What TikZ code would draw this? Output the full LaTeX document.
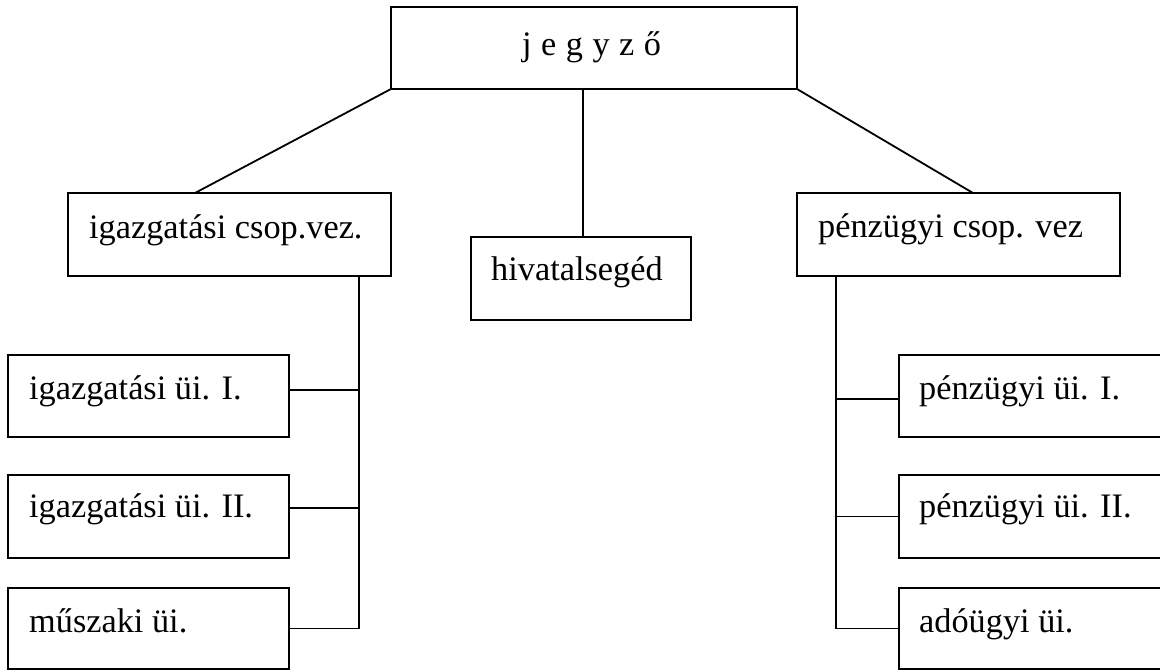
\documentclass[tikz,border=0pt]{standalone}
\usepackage{fontspec}
\setmainfont{Liberation Serif}
\usetikzlibrary{calc}
\begin{document}
\begin{tikzpicture}[x=1pt,y=-1pt,
  box/.style={draw,line width=1.8pt,rectangle,inner sep=0pt,outer sep=0pt,anchor=north west},
  lbl/.style={anchor=base west,inner sep=0pt,font=\fontsize{34.3}{40}\selectfont},
  con/.style={line width=1.8pt}]
\useasboundingbox (0,0) rectangle (1160,670);
\clip (0,0) rectangle (1160,670);
% boxes
\node[box,minimum width=406pt,minimum height=82pt] (jz) at (391,7) {};
\node[box,minimum width=323pt,minimum height=83pt] (igcs) at (68,193) {};
\node[box,minimum width=220pt,minimum height=83pt] (hiv) at (471,237) {};
\node[box,minimum width=323pt,minimum height=83pt] (pcs) at (797,193) {};
\node[box,minimum width=281pt,minimum height=82pt] (ia1) at (8,355) {};
\node[box,minimum width=281pt,minimum height=83pt] (ia2) at (8,475) {};
\node[box,minimum width=281pt,minimum height=81pt] (mu) at (8,588) {};
\node[box,minimum width=270pt,minimum height=82pt] (pe1) at (899,355) {};
\node[box,minimum width=270pt,minimum height=83pt] (pe2) at (899,475) {};
\node[box,minimum width=270pt,minimum height=81pt] (ado) at (899,588) {};
% labels
\node[lbl] (tjz) at (522,55) {j\hspace{9.5pt}e\hspace{9.5pt}g\hspace{9.5pt}y\hspace{9.5pt}z\hspace{9.5pt}ő};
\node[lbl] (tigcs) at (89,238) {igazgatási csop.vez.};
\node[lbl] (thiv) at (491,280) {hivatalsegéd};
\node[lbl] (tpcs) at (818,237) {pénzügyi csop. vez};
\node[lbl] (tia1) at (29,399) {igazgatási üi. I.};
\node[lbl] (tia2) at (29,517) {igazgatási üi. II.};
\node[lbl] (tmu) at (29,632) {műszaki üi.};
\node[lbl] (tpe1) at (919,399) {pénzügyi üi. I.};
\node[lbl] (tpe2) at (919,517) {pénzügyi üi. II.};
\node[lbl] (tado) at (919,632) {adóügyi üi.};
% top connectors
\draw[con] (jz.south west) -- ([xshift=127pt]igcs.north west);
\draw[con] ([xshift=112pt]hiv.north west |- jz.south) -- ([xshift=112pt]hiv.north west);
\draw[con] (jz.south east) -- ([xshift=176pt]pcs.north west);
% left tree
\coordinate (lt) at ([xshift=-32pt]igcs.south east);
\coordinate (lb) at (lt |- mu.east);
\draw[con] (lt) -- (lb) -- (mu.east);
\draw[con] ([yshift=6pt]ia1.east) -- ([yshift=6pt]ia1.east -| lt);
\draw[con] ([yshift=8.5pt]ia2.east) -- ([yshift=8.5pt]ia2.east -| lt);
% right tree
\coordinate (rt) at ([xshift=39pt]pcs.south west);
\coordinate (rb) at (rt |- ado.west);
\draw[con] (rt) -- (rb) -- (ado.west);
\draw[con] ([yshift=-3pt]pe1.west) -- ([yshift=-3pt]pe1.west -| rt);
\draw[con] (pe2.west) -- (pe2.west -| rt);
\end{tikzpicture}
\end{document}
